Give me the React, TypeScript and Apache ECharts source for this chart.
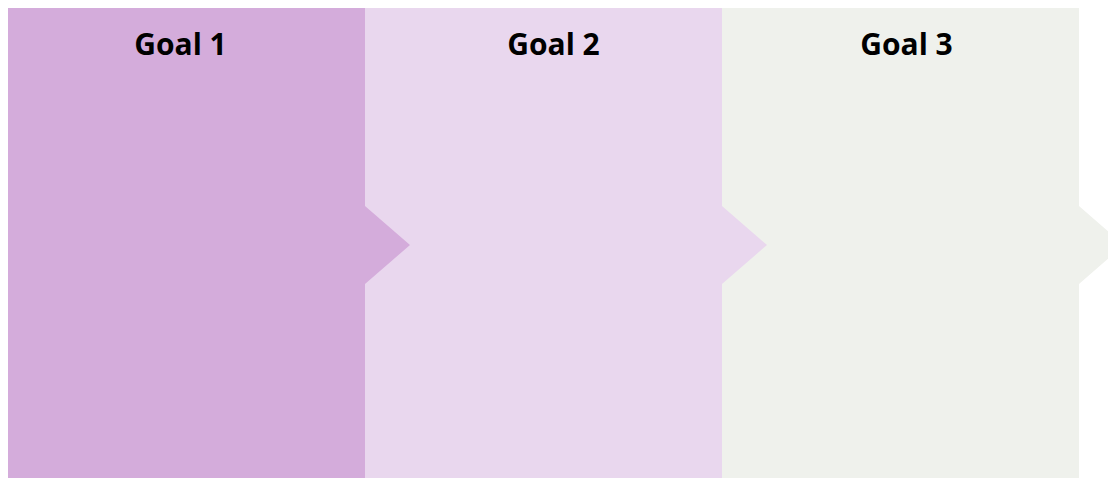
import React, { useEffect, useRef } from "react";
import * as echarts from "echarts";

const goals = ["Goal 1", "Goal 2", "Goal 3"];
const panelColors = ["#d4acdb", "#e9d7ee", "#eff1ec"];
const values = [1, 1, 1];

const LABEL_DX = [-6, 10, 6];
const TIP = 45;
const HALF = 39;

export default function App() {
  const ref = useRef<HTMLDivElement>(null);
  useEffect(() => {
    document.documentElement.style.overflow = "hidden";
    document.body.style.overflow = "hidden";
    const chart = echarts.init(ref.current!, null, { renderer: "svg" });
    chart.setOption({
      animation: false,
      grid: { left: 0, right: 45, top: 0, bottom: 0 },
      xAxis: { type: "category", data: goals, show: false, boundaryGap: true },
      yAxis: { type: "value", min: 0, max: 1, show: false },
      series: [
        {
          type: "custom",
          data: values.map((v, i) => [i, v]),
          renderItem: (params: any, api: any) => {
            const idx = api.value(0);
            const top = api.coord([idx, api.value(1)]);
            const bottom = api.coord([idx, 0]);
            const w = api.size([1, 0])[0];
            const l = top[0] - w / 2;
            const r = top[0] + w / 2;
            const t = top[1];
            const b = bottom[1];
            const mid = (t + b) / 2 + 2;
            return {
              type: "group",
              children: [
                {
                  type: "polygon",
                  z2: 10 - idx,
                  shape: {
                    points: [
                      [l, t],
                      [r, t],
                      [r, mid - HALF],
                      [r + TIP, mid],
                      [r, mid + HALF],
                      [r, b],
                      [l, b],
                    ],
                  },
                  style: { fill: panelColors[idx] },
                },
                {
                  type: "text",
                  z2: 20,
                  x: top[0] + LABEL_DX[idx],
                  y: t + 35,
                  style: {
                    text: goals[idx],
                    fill: "#000",
                    font: "bold 30px 'Open Sans'",
                    align: "center",
                    verticalAlign: "middle",
                  },
                },
              ],
            };
          },
        },
      ],
    });
    return () => chart.dispose();
  }, []);
  return <div ref={ref} style={{ width: 1116, height: 470 }} />;
}
